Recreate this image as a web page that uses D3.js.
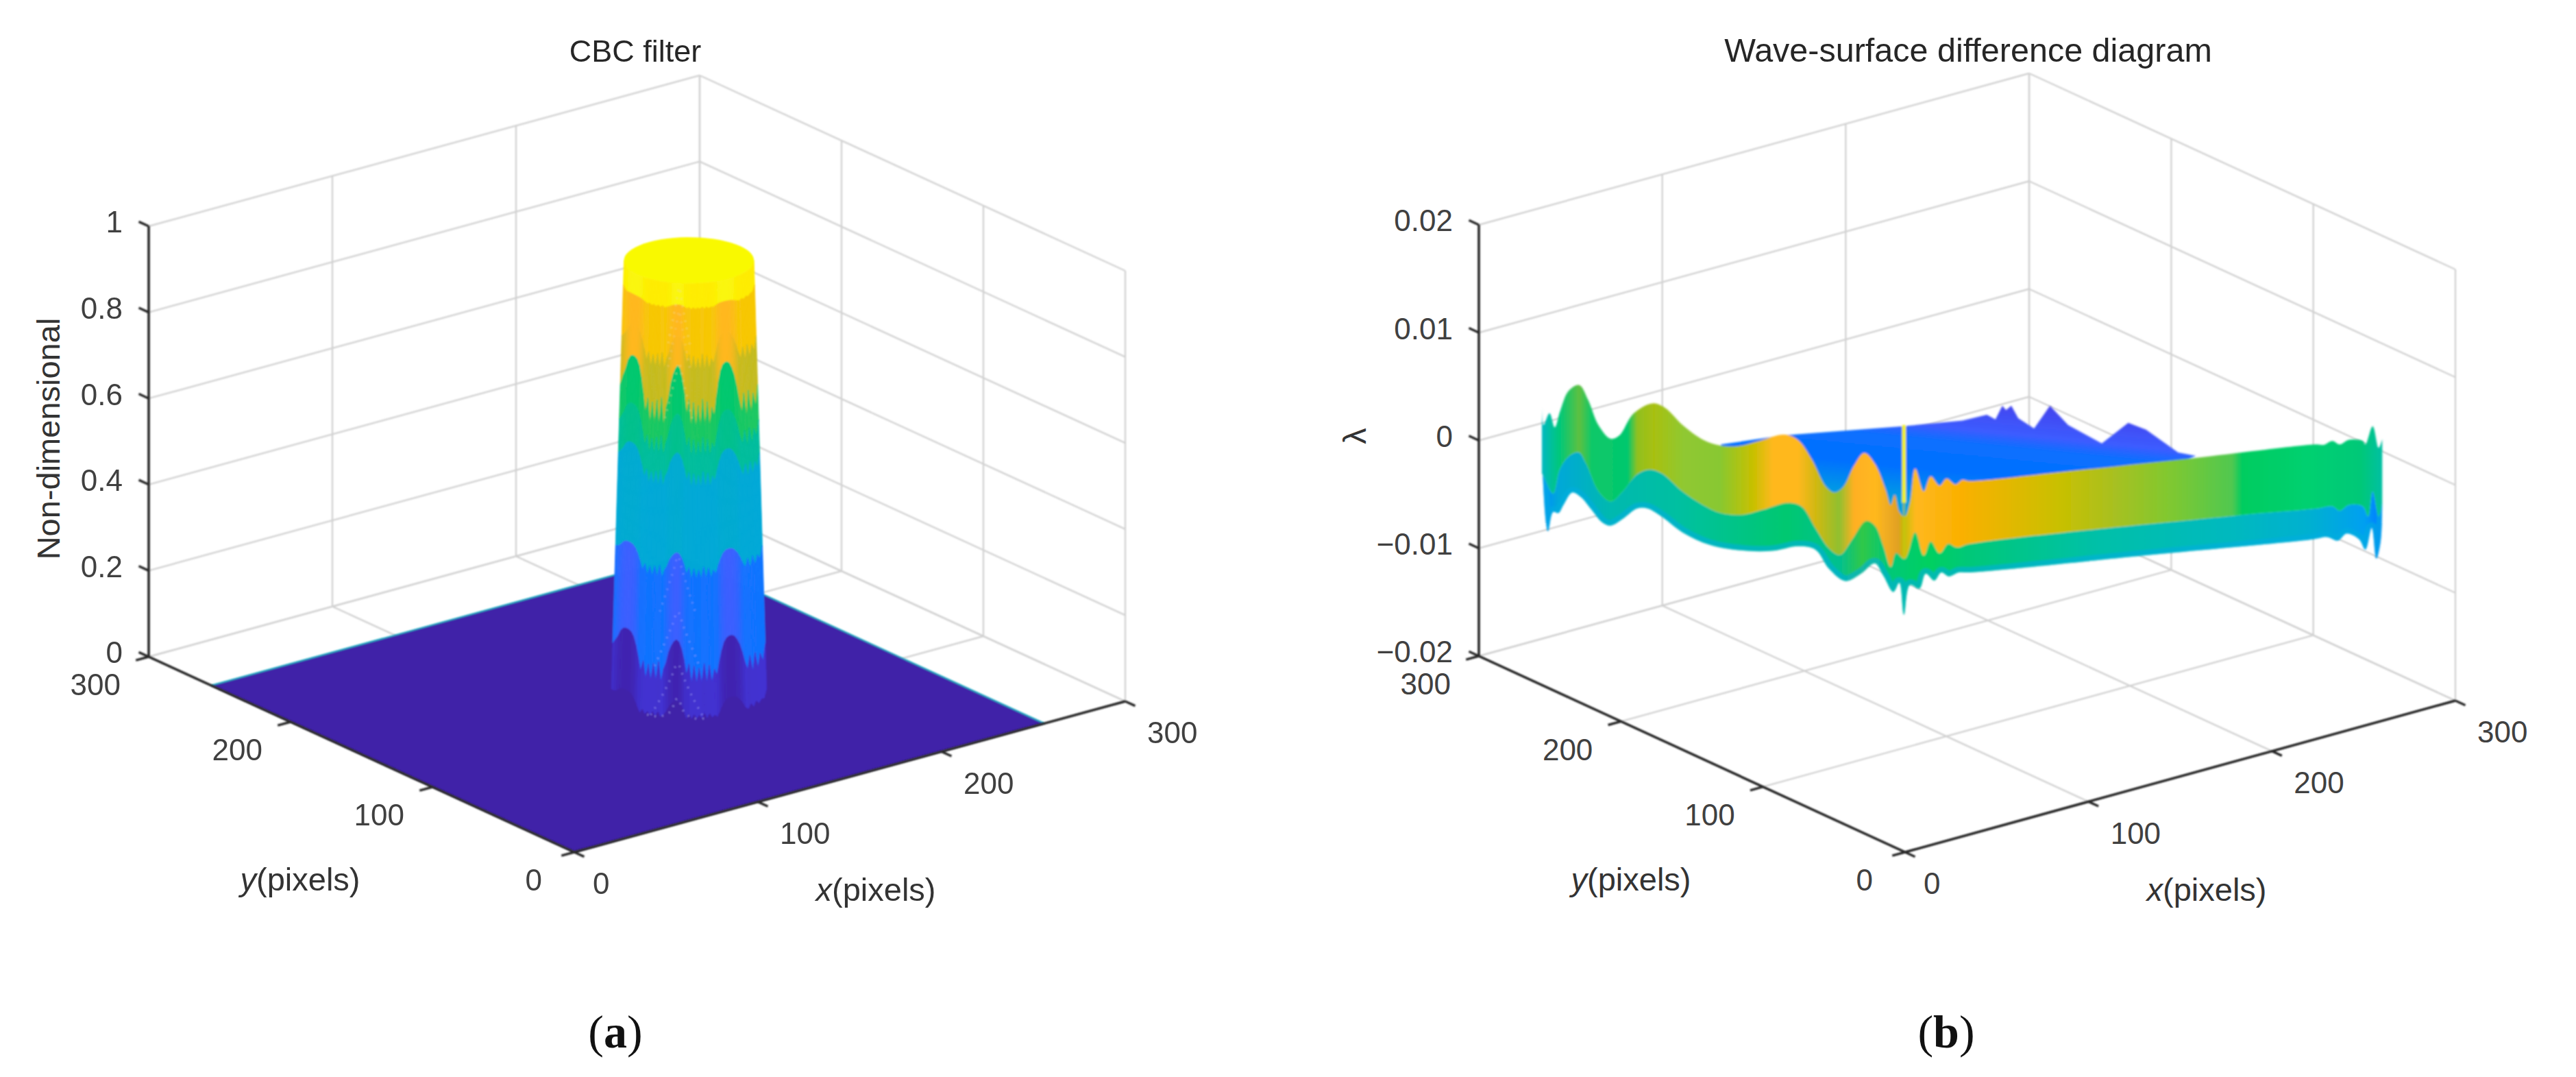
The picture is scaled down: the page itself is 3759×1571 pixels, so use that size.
<!DOCTYPE html>
<html>
<head>
<meta charset="utf-8">
<style>
  html, body { margin: 0; background: #fff; }
  text { font-family: "Liberation Sans", Arial, sans-serif; }
  .tick { font-size: 44px; fill: #404040; }
  .title { fill: #262626; text-anchor: middle; }
  .axis-label { font-size: 47px; fill: #333; text-anchor: middle; }
  .caption { font-family: "Liberation Serif", serif; font-size: 68px; fill: #111; text-anchor: middle; }
</style>
</head>
<body>
<div id="chart"></div>
<script src="https://cdn.jsdelivr.net/npm/d3@7"></script>
<script>
// axis ticks
const xyTicks = [0, 100, 200, 300];
const filterZTicks = [0, 0.2, 0.4, 0.6, 0.8, 1];
const filterZLabels = ["0", "0.2", "0.4", "0.6", "0.8", "1"];
const diffZTicks = [-0.02, -0.01, 0, 0.01, 0.02];
const diffZLabels = ["\u22120.02", "\u22120.01", "0", "0.01", "0.02"];

// (a) floor and cylinder
const floorSize = 256;
const cylinderCenter = [159, 125];
const cylinderRadius = [33.5, 28];

// how far each wall column dips, left silhouette to right silhouette (1 = deepest)
const wallDip = [
  0.7, 0.45, 0.3, 0.12, 0.03, 0, 0, 0.03, 0.12, 0.3, 0.55, 0.85, 0.6, 1, 0.65, 1,
  0.6, 1, 0.55, 1, 0.7, 0.55, 0.3, 0.15, 0.05, 0, 0.05, 0.2, 0.45, 0.8, 0.55, 1,
  0.6, 1, 0.65, 1, 0.55, 1, 0.6, 1, 0.7, 0.85, 0.55, 0.3, 0.12, 0.03, 0, 0, 0.03,
  0.12, 0.25, 0.45, 0.7, 0.9, 0.6, 1, 0.6, 1, 0.7, 0.95, 0.7
];
// lower edge of each colour band on the wall, and how much that edge drops in a dip
const bandFloor = [0.95, 0.88, 0.81, 0.70, 0.61, 0.38, 0.18, 0.04];
const bandDrop = [0.01, 0.08, 0.14, 0.10, 0.08, 0.06, 0.10, 0.05];
const bandRidgeColor = ["#faf60a", "#ffb81f", "#ffb81f", "#00c86e", "#00c08c", "#00aad0", "#3c60ff", "#4024b0"];
const bandDipColor = ["#ffea00", "#f5ca00", "#b8bc20", "#20c860", "#00bca0", "#00a8d8", "#0878ff", "#4234d8"];

// pale speckled arcs on the middle of the wall
const speckleZ = [0.99, 0.936, 0.817, 0.371, 0.244, 0.124, 0.045];
const speckleSpread = [0.16, 0.16, 0.2, 0.24, 0.3, 0.34, 0.38];
const speckleColor = ["#f4e090", "#f4d080", "#e0e090", "#9aa0ff", "#a8a8ff", "#b0b0ff", "#c0c0ff"];

// (b) ribbon, values are 1e-3 lambda
const topX = [0, 0.5, 2.3, 3.9, 5.5, 8.1, 11.3, 14, 17.1, 20.8, 23.5, 27.7, 33.5, 37.3, 42.6, 48.9, 54.2, 59.5, 65.8, 73.3, 77.5, 81.7, 86, 88.6, 91.3, 94.4, 97.6, 100.8, 104, 105.6, 106.8, 108.2, 109.8, 111.4, 113, 115.6, 117.7, 120.4, 122.5, 125.2, 127.3, 129.4, 157.1, 200.1, 234.5, 236.7, 239.3, 241.5, 244.2, 248.5, 249.3, 251.5, 253.3, 254.4];
const topZ = [3.34, 1.43, 2.53, 1.22, 2.7, 4.61, 5.14, 3.76, 1.43, 0.16, 0.48, 2.49, 3.44, 3.02, 1.43, 0.05, -0.48, -0.52, -0.05, 0.54, 0.05, -1.75, -4.29, -4.82, -4.29, -2.39, -1.16, -2.17, -4.51, -5.99, -5.04, -6.63, -7.05, -5.78, -2.6, -4.72, -3.34, -4.19, -3.55, -4.08, -3.66, -3.76, -2.92, -1.54, -0.37, -0.41, -0.05, -0.37, 0.05, -0.05, -0.37, 1.32, -0.69, 0.12];
const midX = [0, 0.7, 3.4, 5.5, 8.7, 11.3, 13.4, 17.1, 20.8, 24.5, 28.8, 32.5, 36.2, 42.6, 48.9, 54.2, 60.6, 66.9, 74.3, 78.6, 82.8, 87, 90.2, 93.9, 98.1, 100.8, 103.4, 105.6, 107.2, 109.8, 113, 115.6, 117.7, 120.4, 123, 125.7, 129.4, 210.9, 234.5, 239.3, 241.5, 244.2, 248.5, 250.1, 251.5, 253.3, 254.4];
const midZ = [-3, -3.45, -4.93, -2.6, -1.33, -1.11, -2.17, -4.72, -5.67, -4.72, -3.13, -2.7, -3.02, -4.72, -5.99, -6.73, -6.88, -6.41, -5.78, -6.1, -8.11, -10.02, -10.61, -9.17, -7.47, -7.9, -9.81, -11.71, -10.44, -10.97, -8.53, -10.65, -9.38, -10.44, -9.59, -9.91, -9.59, -6.94, -6.31, -6.1, -6.52, -5.99, -6.1, -7.05, -4.72, -7.05, -5.78];
const bottomX = [0.2, 1.8, 3.4, 5, 6.5, 9.2, 11.8, 15, 18.2, 20.8, 24.5, 28.8, 32, 36.2, 42.6, 51, 61.6, 70.1, 77.5, 82.8, 87, 91.8, 96.6, 100.8, 103.4, 106.4, 108.2, 109.6, 111.4, 114.3, 116.2, 118.8, 120.9, 123.2, 126.2, 129.4, 182.9, 233.4, 237.7, 241, 243.6, 247.4, 249.3, 251.2, 252.6, 253.9, 254.4];
const bottomZ = [-2.81, -8.43, -6.63, -6.73, -5.99, -4.82, -5.25, -6.41, -7.58, -7.9, -7.26, -6.31, -6.31, -7.05, -8.53, -9.7, -10.23, -10.23, -9.81, -10.12, -11.93, -13.03, -12.35, -11.4, -12.56, -14.05, -13.2, -16.17, -13.41, -13.73, -12.35, -12.99, -12.24, -12.6, -12.24, -12.24, -10.65, -9.17, -8.96, -9.28, -8.64, -9.17, -10.12, -8.11, -10.97, -9.38, -5.78];
const backX = [54.2, 73.3, 109.3, 127.3, 134.7, 137.3, 139.4, 140.5, 142.1, 144.2, 149, 153.8, 159.3, 169.5, 177.5, 182.9, 192.6, 198];
const backZ = [-0.37, 0.48, 1.32, 1.85, 2.38, 1.96, 3.23, 2.81, 3.23, 2.07, 1.11, 3.23, 1.43, -0.27, 1.64, 1, -1.11, -1.43];

const topStopX = [0, 5.5, 11.3, 15, 26, 28.8, 34, 42.6, 54, 64, 70, 77.5, 83, 90, 94.5, 101, 108, 109.6, 113, 127, 157, 173, 190, 209, 212, 232, 248, 254];
const topStopColor = ["#00b8c0", "#00c878", "#5ec040", "#10c868", "#00c86e", "#90c020", "#a8c010", "#90c830", "#88c830", "#c8c000", "#ffb81f", "#ffb81f", "#d0b810", "#90c030", "#ffb020", "#ffb81f", "#e0a020", "#c0c000", "#ffb81f", "#fab000", "#c8c000", "#a8c020", "#80c830", "#50c850", "#00cc60", "#00d070", "#00c878", "#00c0a0"];
const lowStopX = [1, 5, 20, 42, 74, 90, 97, 105, 117, 129, 168, 211, 232, 249, 253];
const lowStopColor = ["#0090f8", "#00a8d8", "#00b8b0", "#00c0a0", "#00c870", "#00c090", "#30c848", "#00c878", "#00d060", "#00c878", "#00c0a8", "#00b8c0", "#00b0d0", "#00a0f0", "#0080ff"];
const backStopZ = [4.4, 1.6, 0.3, -2.4, -5.6];
const backStopColor = ["#4444ee", "#3c5cff", "#0a70ff", "#0070ff", "#00a0e0"];

const spikeX = 109.6;
const spikeZ = [1.43, -5.78, -10.97];

const width = 3759;
const height = 1571;

const svg = d3.select("#chart").append("svg")
  .attr("width", width)
  .attr("height", height)
  .attr("viewBox", [0, 0, width, height])
  .style("display", "block");

const defs = svg.append("defs");
[["soft", 0.9], ["softer", 1.4]].forEach(function (f) {
  defs.append("filter")
    .attr("id", f[0])
    .attr("x", "-5%").attr("y", "-5%").attr("width", "110%").attr("height", "110%")
    .append("feGaussianBlur")
    .attr("stdDeviation", f[1]);
});

function makeProjection(origin, xEnd, yEnd, zHeight, zDomain) {
  const xPos = d3.scaleLinear().domain([0, 300]).range([0, 1]);
  const zPos = d3.scaleLinear().domain(zDomain).range([0, -zHeight]);
  return function (x, y, z) {
    return [
      origin[0] + xPos(x) * (xEnd[0] - origin[0]) + xPos(y) * (yEnd[0] - origin[0]),
      origin[1] + xPos(x) * (xEnd[1] - origin[1]) + xPos(y) * (yEnd[1] - origin[1]) + zPos(z)
    ];
  };
}

function drawFrame(root, project, zTicks) {
  const zMin = zTicks[0];
  const zMax = zTicks[zTicks.length - 1];
  const grid = [];
  zTicks.forEach(function (z) {
    grid.push([[0, 300, z], [300, 300, z]], [[300, 0, z], [300, 300, z]]);
  });
  xyTicks.forEach(function (t) {
    grid.push([[t, 0, zMin], [t, 300, zMin]], [[t, 300, zMin], [t, 300, zMax]]);
    grid.push([[0, t, zMin], [300, t, zMin]], [[300, t, zMin], [300, t, zMax]]);
  });

  root.append("g")
    .attr("filter", "url(#soft)")
    .selectAll("line")
    .data(grid)
    .join("line")
    .attr("x1", function (d) { return project(...d[0])[0]; })
    .attr("y1", function (d) { return project(...d[0])[1]; })
    .attr("x2", function (d) { return project(...d[1])[0]; })
    .attr("y2", function (d) { return project(...d[1])[1]; })
    .attr("stroke", "#d2d2d2")
    .attr("stroke-width", 2.4);
}

function drawAxes(root, project, zTicks, panel) {
  const zMin = zTicks[0];
  const zMax = zTicks[zTicks.length - 1];
  const tickLen = 7;
  const lines = [
    [[0, 0, zMin], [300, 0, zMin]],
    [[0, 0, zMin], [0, 300, zMin]],
    [[0, 300, zMin], [0, 300, zMax]]
  ];
  xyTicks.forEach(function (t) {
    lines.push([[t, 0, zMin], [t, -tickLen, zMin]]);
    lines.push([[0, t, zMin], [-tickLen, t, zMin]]);
  });
  zTicks.forEach(function (z) {
    lines.push([[0, 300, z], [0, 300 + tickLen, z]]);
  });

  root.append("g")
    .attr("filter", "url(#soft)")
    .selectAll("line")
    .data(lines)
    .join("line")
    .attr("x1", function (d) { return project(...d[0])[0]; })
    .attr("y1", function (d) { return project(...d[0])[1]; })
    .attr("x2", function (d) { return project(...d[1])[0]; })
    .attr("y2", function (d) { return project(...d[1])[1]; })
    .attr("stroke", "#262626")
    .attr("stroke-width", 3.4);

  xyTicks.forEach(function (t) {
    const onX = project(t, 0, zMin);
    root.append("text").attr("class", "tick")
      .attr("x", onX[0] + (t === 0 ? 27 : 32))
      .attr("y", onX[1] + 46)
      .attr("dy", "0.35em")
      .text(t);
    const onY = project(0, t, zMin);
    root.append("text").attr("class", "tick")
      .attr("text-anchor", "end")
      .attr("x", onY[0] - (t === 0 ? 47 : 41))
      .attr("y", onY[1] + 41)
      .attr("dy", "0.35em")
      .text(t);
  });

  zTicks.forEach(function (z, i) {
    const at = project(0, 300, z);
    root.append("text").attr("class", "tick")
      .attr("text-anchor", "end")
      .attr("x", at[0] - 38)
      .attr("y", at[1] - 6)
      .attr("dy", "0.35em")
      .text(panel.zLabels[i]);
  });

  root.append("text").attr("class", "title")
    .attr("x", panel.titleX).attr("y", 90)
    .attr("font-size", panel.titleSize)
    .text(panel.title);

  const yLabel = root.append("text").attr("class", "axis-label")
    .attr("x", panel.yLabel[0]).attr("y", panel.yLabel[1]).attr("dy", "0.35em");
  yLabel.append("tspan").attr("font-style", "italic").text("y");
  yLabel.append("tspan").text("(pixels)");

  const xLabel = root.append("text").attr("class", "axis-label")
    .attr("x", panel.xLabel[0]).attr("y", panel.xLabel[1]).attr("dy", "0.35em");
  xLabel.append("tspan").attr("font-style", "italic").text("x");
  xLabel.append("tspan").text("(pixels)");

  root.append("text").attr("class", "axis-label")
    .attr("transform", `translate(${panel.zLabel[0]},${panel.zLabel[1]}) rotate(-90)`)
    .attr("dy", "0.35em")
    .text(panel.zLabel[2]);

  const caption = root.append("text").attr("class", "caption")
    .attr("x", panel.captionX).attr("y", 1528);
  caption.append("tspan").text("(");
  caption.append("tspan").attr("font-weight", "bold").text(panel.captionLetter);
  caption.append("tspan").text(")");
}

function drawFilterSurface(root, project) {
  const surface = root.append("g").attr("filter", "url(#soft)");

  const floorCorners = [
    [0, 0], [floorSize, 0], [floorSize, floorSize], [0, floorSize]
  ].map(function (c) { return project(c[0], c[1], 0); });

  surface.append("polygon")
    .attr("points", floorCorners.join(" "))
    .attr("fill", "#3f20a8");

  surface.append("polyline")
    .attr("points", [floorCorners[3], floorCorners[2], floorCorners[1]].join(" "))
    .attr("fill", "none")
    .attr("stroke", "#18a8c0")
    .attr("stroke-width", 2);

  const radius = d3.scaleLinear().domain([0, 1]).range(cylinderRadius);
  const phi = Math.atan2(2.07, 2.68);

  function wallPoint(u, z) {
    const t = -phi - Math.acos(u);
    const r = radius(z);
    return project(
      cylinderCenter[0] + r * Math.cos(t),
      cylinderCenter[1] + r * Math.sin(t),
      Math.max(z, 0)
    );
  }

  const column = d3.scaleLinear().domain([0, wallDip.length - 1]).range([-1, 1]);

  function edgeAt(i, k) {
    if (k < 0) return 1;
    return bandFloor[k] - wallDip[i] * bandDrop[k];
  }

  const cells = [];
  bandFloor.forEach(function (_, k) {
    d3.range(wallDip.length - 1).forEach(function (i) {
      const dip = (wallDip[i] + wallDip[i + 1]) / 2;
      cells.push({
        points: [
          wallPoint(column(i), edgeAt(i, k - 1)),
          wallPoint(column(i + 1), edgeAt(i + 1, k - 1)),
          wallPoint(column(i + 1), edgeAt(i + 1, k)),
          wallPoint(column(i), edgeAt(i, k))
        ],
        fill: d3.interpolateRgb(bandRidgeColor[k], bandDipColor[k])(dip)
      });
    });
  });

  surface.append("g")
    .selectAll("polygon")
    .data(cells)
    .join("polygon")
    .attr("points", function (d) { return d.points.join(" "); })
    .attr("fill", function (d) { return d.fill; })
    .attr("stroke", function (d) { return d.fill; })
    .attr("stroke-width", 0.8);

  const arcLine = d3.line().curve(d3.curveCatmullRom);
  surface.append("g")
    .selectAll("path")
    .data(speckleZ)
    .join("path")
    .attr("d", function (z, i) {
      const spread = speckleSpread[i];
      return arcLine([-1, -0.6, -0.25, 0, 0.25, 0.6, 1].map(function (s) {
        return wallPoint(-0.15 + s * spread, z - 0.13 * Math.abs(s));
      }));
    })
    .attr("fill", "none")
    .attr("stroke", function (z, i) { return speckleColor[i]; })
    .attr("stroke-width", 3)
    .attr("stroke-dasharray", "2 9")
    .attr("opacity", 0.5);

  const capLine = d3.line().curve(d3.curveLinearClosed);
  surface.append("path")
    .attr("d", capLine(d3.range(0, 360, 6).map(function (a) {
      const t = a * Math.PI / 180;
      return project(
        cylinderCenter[0] + cylinderRadius[1] * Math.cos(t),
        cylinderCenter[1] + cylinderRadius[1] * Math.sin(t),
        1
      );
    })))
    .attr("fill", "#f9f900");
}

function addGradient(id, from, to, items) {
  const g = defs.append("linearGradient")
    .attr("id", id)
    .attr("gradientUnits", "userSpaceOnUse")
    .attr("x1", from[0]).attr("y1", from[1])
    .attr("x2", to[0]).attr("y2", to[1]);
  items.forEach(function (s) {
    g.append("stop").attr("offset", s[0]).attr("stop-color", s[1]);
  });
}

function drawRibbon(root) {
  const ribbonX = d3.scaleLinear().domain([0, 256]).range([2250, 3484]);
  const ribbonZ = d3.scaleLinear().domain([-20, 20]).range([957, 328]);

  const toPoints = function (xs, zs) {
    return xs.map(function (x, i) { return [ribbonX(x), ribbonZ(zs[i])]; });
  };

  const topPts = toPoints(topX, topZ);
  const midPts = toPoints(midX, midZ);
  const bottomPts = toPoints(bottomX, bottomZ);
  const backPts = toPoints(backX, backZ);

  const along = d3.scaleLinear().domain([0, 256]).range([0, 1]);
  addGradient("ribbonTop", [ribbonX(0), 0], [ribbonX(256), 0],
    topStopX.map(function (x, i) { return [along(x), topStopColor[i]]; }));
  addGradient("ribbonLow", [ribbonX(0), 0], [ribbonX(256), 0],
    lowStopX.map(function (x, i) { return [along(x), lowStopColor[i]]; }));

  // the colour bands of the rear sheet lean a little, falling to the right
  const lastZ = backStopZ[backStopZ.length - 1];
  const backScale = d3.scaleLinear().domain([backStopZ[0], lastZ]).range([0, 1]);
  const backFrom = [ribbonX(109.6), ribbonZ(backStopZ[0])];
  const backRun = ribbonZ(lastZ) - ribbonZ(backStopZ[0]);
  addGradient("ribbonBack", backFrom, [backFrom[0] - 0.1 * backRun, backFrom[1] + backRun],
    backStopZ.map(function (z, i) { return [backScale(z), backStopColor[i]]; }));

  const surface = root.append("g").attr("filter", "url(#softer)");
  const line = d3.line().curve(d3.curveCatmullRom.alpha(0.5));

  // rear sheet closes down behind the front face
  const behind = midX.map(function (x, i) { return [x, midZ[i]]; })
    .filter(function (d) { return d[0] >= backX[0] && d[0] <= backX[backX.length - 1]; })
    .reverse()
    .map(function (d) { return [ribbonX(d[0]), ribbonZ(d[1])]; });

  surface.append("path")
    .attr("d", d3.line()(backPts.concat(behind)) + "Z")
    .attr("fill", "url(#ribbonBack)");

  const lowPath = line(midPts) + "L" + line(bottomPts.slice().reverse()).slice(1) + "Z";

  defs.append("clipPath").attr("id", "lowClip")
    .append("path").attr("d", lowPath);

  surface.append("path")
    .attr("d", lowPath)
    .attr("fill", "url(#ribbonLow)");

  surface.append("path")
    .attr("d", line(bottomPts))
    .attr("clip-path", "url(#lowClip)")
    .attr("fill", "none")
    .attr("stroke", "#00aee0")
    .attr("stroke-width", 16)
    .attr("opacity", 0.6);

  surface.append("path")
    .attr("d", line(topPts) + "L" + line(midPts.slice().reverse()).slice(1) + "Z")
    .attr("fill", "url(#ribbonTop)");

  surface.append("line")
    .attr("x1", ribbonX(spikeX)).attr("x2", ribbonX(spikeX))
    .attr("y1", ribbonZ(spikeZ[0])).attr("y2", ribbonZ(spikeZ[1]))
    .attr("stroke", "#f2f200")
    .attr("stroke-width", 5.5);

  surface.append("line")
    .attr("x1", ribbonX(spikeX)).attr("x2", ribbonX(spikeX))
    .attr("y1", ribbonZ(spikeZ[1])).attr("y2", ribbonZ(spikeZ[2]))
    .attr("stroke", "#c8c820")
    .attr("stroke-width", 2.5)
    .attr("opacity", 0.7);
}

// panel (a)
const filterProject = makeProjection([838, 1243], [1642, 1023], [217, 958], 628, [0, 1]);
const panelA = svg.append("g");
drawFrame(panelA, filterProject, filterZTicks);
drawFilterSurface(panelA, filterProject);
drawAxes(panelA, filterProject, filterZTicks, {
  title: "CBC filter",
  titleX: 927,
  titleSize: 45,
  zLabels: filterZLabels,
  yLabel: [438, 1283],
  xLabel: [1278, 1298],
  zLabel: [71, 640, "Non-dimensional"],
  captionX: 898,
  captionLetter: "a"
});

// panel (b)
const diffProject = makeProjection([2780, 1243], [3583, 1022], [2158, 957], 629, [-0.02, 0.02]);
const panelB = svg.append("g");
drawFrame(panelB, diffProject, diffZTicks);
drawRibbon(panelB);
drawAxes(panelB, diffProject, diffZTicks, {
  title: "Wave-surface difference diagram",
  titleX: 2872,
  titleSize: 48.5,
  zLabels: diffZLabels,
  yLabel: [2380, 1283],
  xLabel: [3220, 1298],
  zLabel: [1977, 636, "\u03bb"],
  captionX: 2840,
  captionLetter: "b"
});
</script>
</body>
</html>
